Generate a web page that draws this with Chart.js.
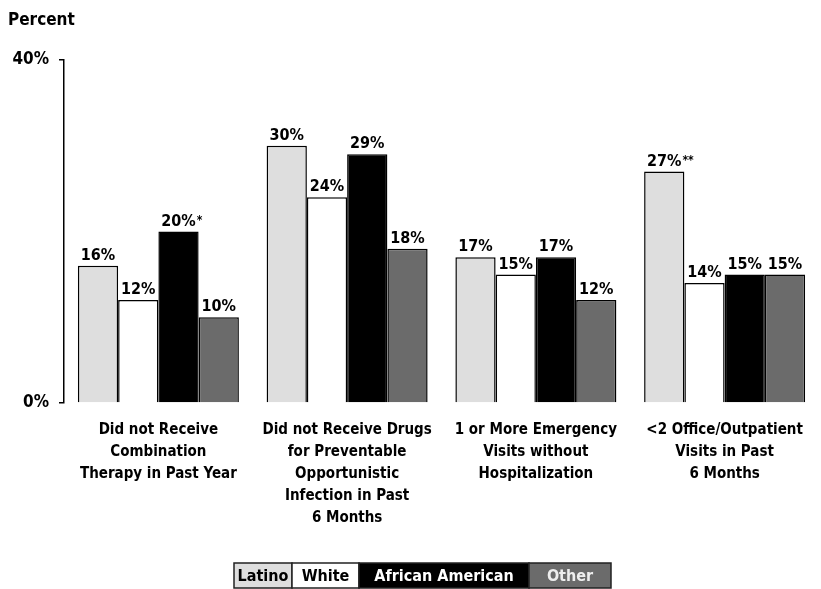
<!DOCTYPE html>
<html>
<head>
<meta charset="utf-8">
<script src="https://cdn.jsdelivr.net/npm/chart.js@4.4.1/dist/chart.umd.min.js"></script>
<style>
  html, body { margin: 0; padding: 0; background: #fff; }
  canvas { display: block; }
</style>
</head>
<body>
<canvas id="care" width="821" height="589"></canvas>
<script>
// categories and values (percent)
const categories = [
    ['Did not Receive', 'Combination', 'Therapy in Past Year'],
    ['Did not Receive Drugs', 'for Preventable', 'Opportunistic', 'Infection in Past', '6 Months'],
    ['1 or More Emergency', 'Visits without', 'Hospitalization'],
    ['<2 Office/Outpatient', 'Visits in Past', '6 Months']
];
const latino = [16, 30, 17, 27];
const white = [12, 24, 15, 14];
const africanAmerican = [20, 29, 17, 15];
const other = [10, 18, 12, 15];

// significance marks after the value labels
const latinoNotes = ['', '', '', '**'];
const whiteNotes = ['', '', '', ''];
const africanAmericanNotes = ['*', '', '', ''];
const otherNotes = ['', '', '', ''];

const yTicks = [0, 40];

const FONT = '"Liberation Sans Narrow", "DejaVu Sans Condensed", sans-serif';

// legend swatch widths and text colours
const legendWidths = [58, 67, 170, 82];
const legendText = ['#000', '#000', '#fff', '#eeeeee'];

const barLabels = {
    id: 'barLabels',
    afterDatasetsDraw(chart) {
        const ctx = chart.ctx;
        ctx.save();
        chart.data.datasets.forEach((ds, i) => {
            const meta = chart.getDatasetMeta(i);
            meta.data.forEach((bar, j) => {
                const txt = ds.data[j] + '%';
                ctx.font = 'bold 16px ' + FONT;
                ctx.fillStyle = '#000';
                ctx.textAlign = 'center';
                ctx.textBaseline = 'bottom';
                ctx.fillText(txt, bar.x, bar.y - 2);
                const note = ds.notes[j];
                if (note) {
                    const w = ctx.measureText(txt).width;
                    ctx.font = 'bold 12px ' + FONT;
                    ctx.textAlign = 'left';
                    ctx.textBaseline = 'top';
                    ctx.fillText(note, bar.x + w / 2 + 1, bar.y - 17);
                }
            });
        });
        ctx.restore();
    }
};

const extras = {
    id: 'extras',
    afterDraw(chart) {
        const ctx = chart.ctx;
        ctx.save();
        // axis heading
        ctx.font = 'bold 17px ' + FONT;
        ctx.fillStyle = '#000';
        ctx.textAlign = 'left';
        ctx.textBaseline = 'middle';
        ctx.fillText('Percent', 8, 21);

        // legend row of labelled boxes
        let x = 234;
        const top = 563, h = 25;
        chart.data.datasets.forEach((ds, i) => {
            const w = legendWidths[i];
            ctx.fillStyle = ds.backgroundColor;
            ctx.fillRect(x, top, w, h);
            ctx.strokeStyle = '#222';
            ctx.lineWidth = 1.5;
            ctx.strokeRect(x, top, w, h);
            ctx.font = 'bold 16px ' + FONT;
            ctx.fillStyle = legendText[i];
            ctx.textAlign = 'center';
            ctx.textBaseline = 'middle';
            ctx.fillText(ds.label, x + w / 2, top + h / 2 + 1);
            x += w;
        });
        ctx.restore();
    }
};

new Chart(document.getElementById('care'), {
    type: 'bar',
    data: {
        labels: categories,
        datasets: [
            { label: 'Latino', data: latino, notes: latinoNotes, backgroundColor: '#dedede' },
            { label: 'White', data: white, notes: whiteNotes, backgroundColor: '#ffffff' },
            { label: 'African American', data: africanAmerican, notes: africanAmericanNotes, backgroundColor: '#000000' },
            { label: 'Other', data: other, notes: otherNotes, backgroundColor: '#6b6b6b' }
        ]
    },
    options: {
        responsive: false,
        animation: false,
        devicePixelRatio: 1,
        layout: { padding: { top: 60, right: 2, bottom: 0, left: 0 } },
        datasets: {
            bar: {
                borderColor: '#000',
                borderWidth: 1.5,
                categoryPercentage: 0.853,
                barPercentage: 1
            }
        },
        plugins: {
            legend: { display: false },
            tooltip: { enabled: false }
        },
        scales: {
            x: {
                grid: { display: false, drawTicks: false },
                border: { display: false },
                ticks: {
                    color: '#000',
                    font: { family: FONT, size: 15, weight: 'bold', lineHeight: 1.47 },
                    padding: 16,
                    maxRotation: 0,
                    autoSkip: false
                },
                afterFit(scale) {
                    scale.height = 186;
                    scale.paddingLeft = 0;
                    scale.paddingRight = 0;
                }
            },
            y: {
                min: 0,
                max: 40,
                afterBuildTicks(scale) { scale.ticks = yTicks.map(v => ({ value: v })); },
                grid: { drawOnChartArea: false, drawTicks: true, tickLength: 5, color: '#000', lineWidth: 1.5 },
                border: { display: true, color: '#000', width: 1.5 },
                ticks: {
                    color: '#000',
                    font: { family: FONT, size: 17, weight: 'bold' },
                    padding: 10,
                    callback: v => v + '%'
                },
                afterFit(scale) { scale.width = 64; }
            }
        }
    },
    plugins: [barLabels, extras]
});
</script>
</body>
</html>
